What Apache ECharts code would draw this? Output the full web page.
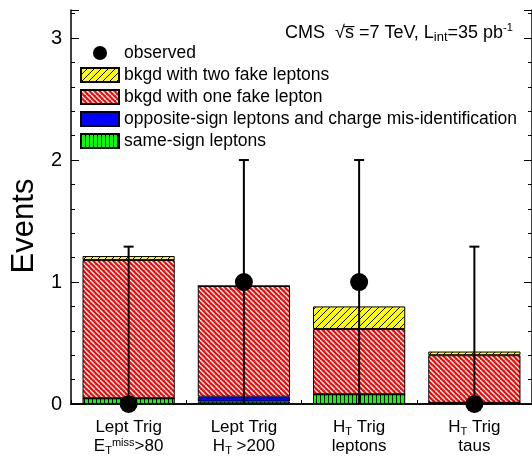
<!DOCTYPE html>
<html><head><meta charset="utf-8">
<script src="https://cdn.jsdelivr.net/npm/echarts@6/dist/echarts.min.js"></script>
<style>html,body{margin:0;padding:0;background:#fff}#c{width:532px;height:457px}</style>
</head><body><div id="c"></div>
<script>
// ---- data ----
const categories = ['Lept Trig MET>80', 'Lept Trig HT>200', 'HT Trig leptons', 'HT Trig taus'];
const categoryLabels = [
  '{n|Lept Trig}\n{n|E}{sub|T}{sup|miss}{n|>80}',
  '{n|Lept Trig}\n{n|H}{sub|T}{n| >200}',
  '{n|H}{sub|T}{n| Trig}\n{n|leptons}',
  '{n|H}{sub|T}{n| Trig}\n{n|taus}'
];
const sameSign     = [0.047, 0.02, 0.08, 0.01];
const oppositeSign = [0.0,   0.04, 0.0,  0.0];
const oneFake      = [1.133, 0.907, 0.535, 0.39];
const twoFake      = [0.033, 0.0,  0.185, 0.03];
const observed     = [0, 1, 1, 0];
const errLow       = [0, 0, 0, 0];
const errHigh      = [1.29, 2, 2, 1.29];
const yTickValues  = [0, 1, 2, 3];
const seriesNames  = ['observed', 'bkgd with two fake leptons', 'bkgd with one fake lepton',
  'opposite-sign leptons and charge mis-identification', 'same-sign leptons'];

// ---- patterns ----
function hatch(bg, fg, size, lw, type) {
  const c = document.createElement('canvas');
  c.width = size; c.height = size;
  const g = c.getContext('2d');
  g.fillStyle = bg; g.fillRect(0, 0, size, size);
  g.strokeStyle = fg; g.lineWidth = lw; g.beginPath();
  if (type === 'back') {
    for (let k = -1; k <= 1; k++) { g.moveTo(0, k * size); g.lineTo(size, size + k * size); }
  } else if (type === 'fwd') {
    for (let k = -1; k <= 1; k++) { g.moveTo(0, size + k * size); g.lineTo(size, k * size); }
  } else {
    g.moveTo(0.5, 0); g.lineTo(0.5, size);
  }
  g.stroke();
  return { image: c, repeat: 'repeat' };
}
const redPat = hatch('#ff0000', '#ffffff', 5, 1.4, 'back');
const yellowPat = hatch('#ffff00', '#000000', 7, 1, 'fwd');
const greenPat = hatch('#00ff00', '#000000', 4, 1, 'vert');

const FONT = 'Liberation Sans, Arial, sans-serif';
const chart = echarts.init(document.getElementById('c'), null, { renderer: 'canvas' });

function barSeries(name, data, color) {
  return {
    name, type: 'bar', stack: 'bg', data, barWidth: '80%', xAxisIndex: 0, yAxisIndex: 0,
    itemStyle: { color, borderColor: '#000', borderWidth: 1 },
    emphasis: { disabled: true }, animation: false
  };
}

chart.setOption({
  animation: false,
  backgroundColor: '#fff',
  grid: { left: 71, top: 10, right: -6.5, bottom: 53, containLabel: false },
  legend: {
    orient: 'vertical', left: 80, top: 44, padding: 0, itemWidth: 38, itemHeight: 14, itemGap: 4,
    textStyle: { fontSize: 17.5, color: '#000', fontFamily: FONT, lineHeight: 17 },
    selectedMode: false,
    data: [
      { name: seriesNames[0], icon: 'circle' },
      { name: seriesNames[1], icon: 'rect' },
      { name: seriesNames[2], icon: 'rect' },
      { name: seriesNames[3], icon: 'rect' },
      { name: seriesNames[4], icon: 'rect' }
    ]
  },
  xAxis: [{
    type: 'category', data: categories, position: 'bottom',
    axisLine: { lineStyle: { color: '#000', width: 1.5 } },
    axisTick: { show: true, inside: true, length: 4, lineStyle: { color: '#000' } },
    axisLabel: {
      margin: 14, color: '#000', interval: 0,
      formatter: (v, i) => categoryLabels[i],
      rich: {
        n: { fontSize: 17, fontFamily: FONT, color: '#000', lineHeight: 19 },
        sub: { fontSize: 11, fontFamily: FONT, color: '#000', lineHeight: 8, verticalAlign: 'bottom' },
        sup: { fontSize: 11, fontFamily: FONT, color: '#000', lineHeight: 6, verticalAlign: 'top' }
      }
    },
    splitLine: { show: false }
  }, {
    type: 'category', data: categories, position: 'top',
    axisLine: { lineStyle: { color: '#000', width: 1.5 } },
    axisTick: { show: false }, axisLabel: { show: false }, splitLine: { show: false }
  }],
  yAxis: [{
    type: 'value', min: 0, max: 3.23, interval: 1, position: 'left',
    axisLine: { show: true, lineStyle: { color: '#000', width: 1.5 } },
    axisTick: { show: true, inside: true, length: 8, lineStyle: { color: '#000', width: 1 } },
    minorTick: { show: true, splitNumber: 5, length: 4, lineStyle: { color: '#000', width: 1 } },
    axisLabel: {
      margin: 9, color: '#000', fontSize: 20, fontFamily: FONT,
      formatter: v => (yTickValues.indexOf(v) >= 0 ? String(v) : ''),
      showMaxLabel: false
    },
    splitLine: { show: false }
  }, {
    type: 'value', min: 0, max: 3.23, interval: 1, position: 'right',
    axisLine: { show: true, lineStyle: { color: '#000', width: 1.5 } },
    axisTick: { show: true, inside: true, length: 8, lineStyle: { color: '#000', width: 1 } },
    minorTick: { show: true, splitNumber: 5, length: 4, lineStyle: { color: '#000', width: 1 } },
    axisLabel: { show: false }, splitLine: { show: false }
  }],
  graphic: [{
    type: 'text', left: 285, top: 22, silent: true,
    style: {
      text: '{a|CMS  √s̅ =7 TeV, L}{sub|int}{a|=35 pb}{sup|-1}',
      rich: {
        a: { fontSize: 18, fontFamily: FONT, color: '#000', lineHeight: 22 },
        sub: { fontSize: 13, fontFamily: FONT, color: '#000', lineHeight: 11, verticalAlign: 'bottom' },
        sup: { fontSize: 11, fontFamily: FONT, color: '#000', lineHeight: 8, verticalAlign: 'top' }
      }
    }
  }, {
    type: 'text', x: 24, y: 226, rotation: Math.PI / 2, silent: true,
    style: { text: 'Events', fontSize: 31, fontFamily: FONT, fill: '#000', align: 'center', verticalAlign: 'middle' }
  }],
  series: [
    barSeries(seriesNames[4], sameSign, greenPat),
    barSeries(seriesNames[3], oppositeSign, '#0000ff'),
    barSeries(seriesNames[2], oneFake, redPat),
    barSeries(seriesNames[1], twoFake, yellowPat),
    {
      name: 'errors', type: 'custom', xAxisIndex: 0, yAxisIndex: 0, z: 5,
      data: categories.map((c, i) => [i, errLow[i], errHigh[i]]),
      renderItem: (params, api) => {
        const lo = api.coord([api.value(0), api.value(1)]);
        const hi = api.coord([api.value(0), api.value(2)]);
        return {
          type: 'group', children: [
            { type: 'line', shape: { x1: lo[0], y1: lo[1], x2: hi[0], y2: hi[1] }, style: { stroke: '#000', lineWidth: 2 } },
            { type: 'line', shape: { x1: hi[0] - 5, y1: hi[1], x2: hi[0] + 5, y2: hi[1] }, style: { stroke: '#000', lineWidth: 2 } }
          ]
        };
      }
    },
    {
      name: seriesNames[0], type: 'scatter', data: observed, symbol: 'circle', symbolSize: 18, z: 10,
      itemStyle: { color: '#000', opacity: 1 }, emphasis: { disabled: true }
    }
  ]
});
</script>
</body></html>
